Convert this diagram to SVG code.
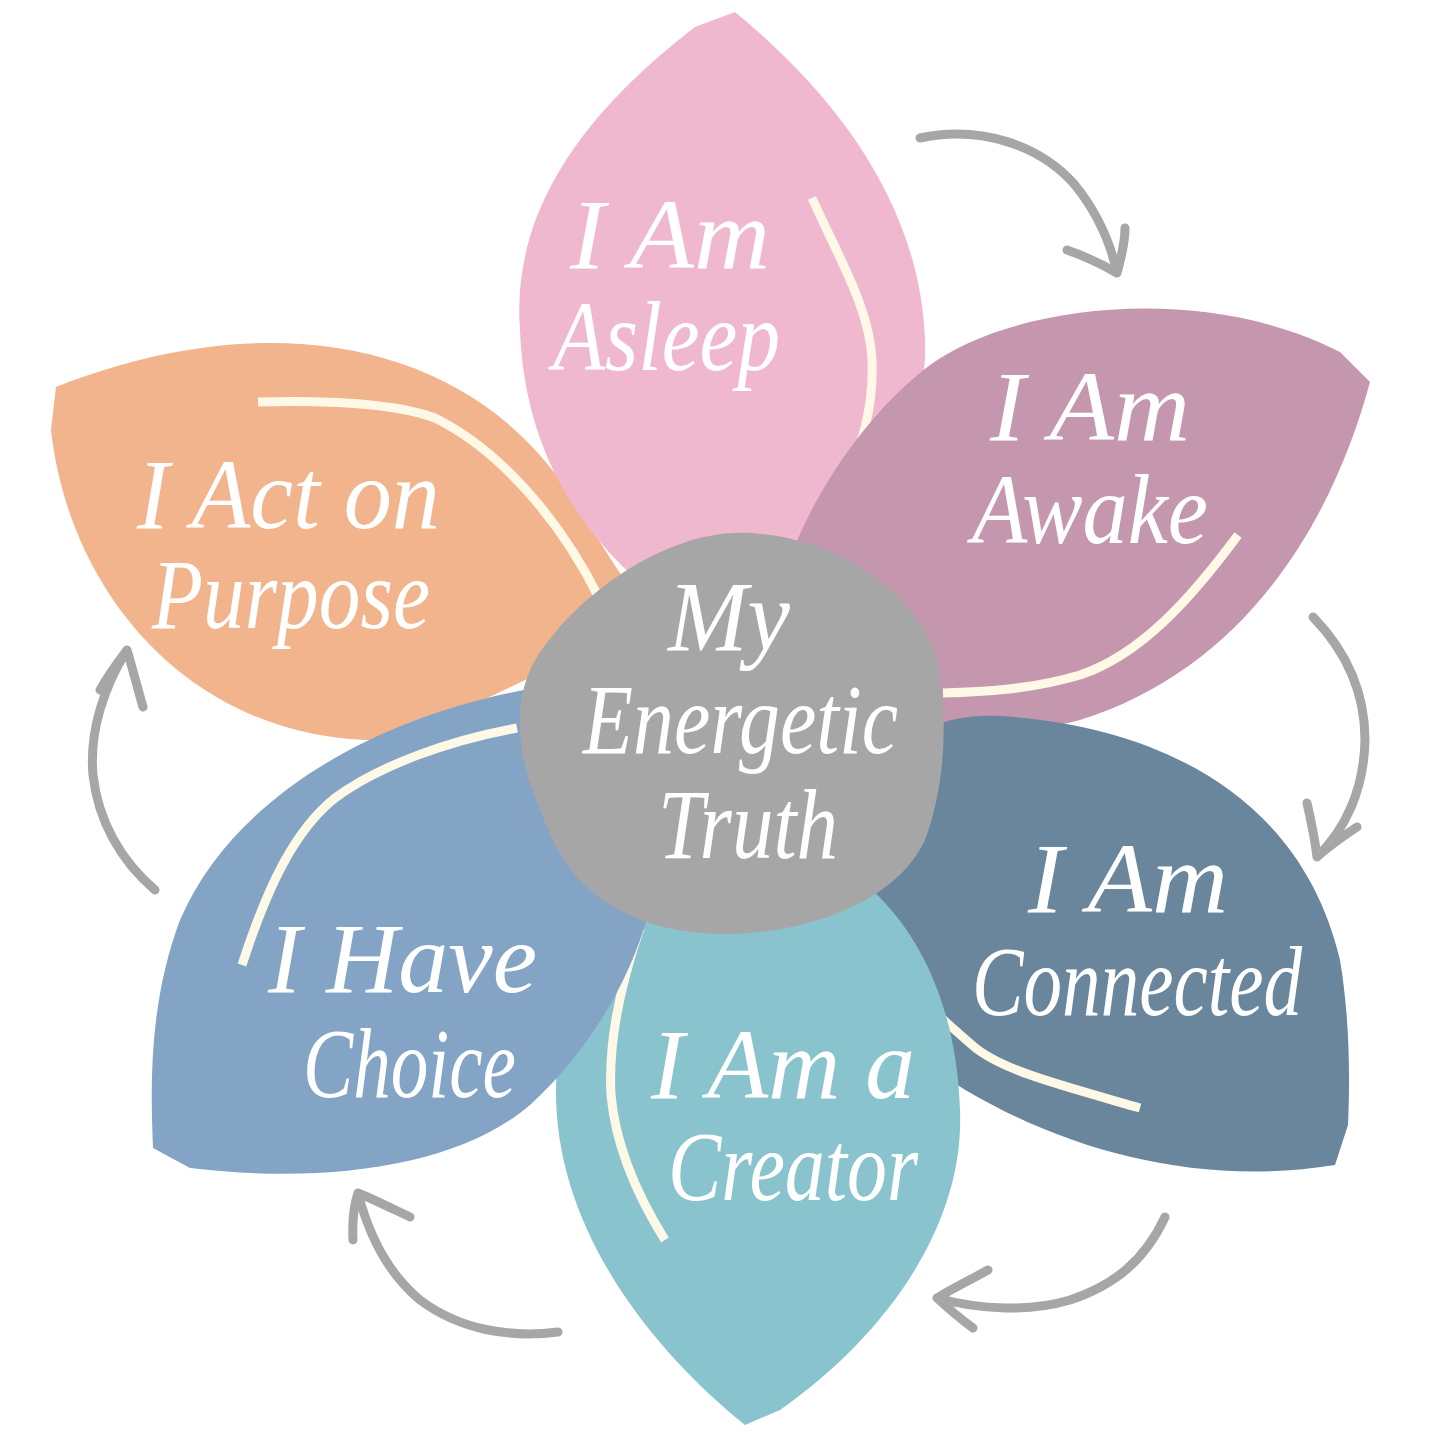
<svg xmlns="http://www.w3.org/2000/svg" width="1440" height="1440" viewBox="0 0 1440 1440">
<style>
.vein{fill:none;stroke:#FDF9E6;stroke-width:9;stroke-linecap:butt}
.arr{fill:none;stroke:#A6A6A6;stroke-width:9;stroke-linecap:round;stroke-linejoin:round}
.lbl{font-family:"Liberation Serif","DejaVu Serif",serif;font-style:italic;font-size:100px;fill:#FFFFFF}
</style>
<rect width="1440" height="1440" fill="#FFFFFF"/>
<g id="petal-purpose">
<path d="M56,387 C250,310 450,330 560,480 L650,620 L400,740 C200,750 70,600 51,430 Z" fill="#F2B48C"/>
<path class="vein" d="M258,402 C340,400 400,405 435,418 C500,450 560,520 598,596"/>
<text class="lbl" x="137" y="528" textLength="303" lengthAdjust="spacingAndGlyphs">I Act on</text>
<text class="lbl" x="152" y="628" textLength="278" lengthAdjust="spacingAndGlyphs">Purpose</text>
</g>
<g id="petal-asleep">
<path d="M695,27 L735,12 C830,90 920,200 925,340 C930,470 820,560 720,640 C600,570 525,470 520,330 C510,200 600,100 695,27 Z" fill="#F0B8CF"/>
<path class="vein" d="M812,198 C840,260 870,310 872,360 C874,410 860,450 848,472"/>
<text class="lbl" x="570" y="268" textLength="200" lengthAdjust="spacingAndGlyphs">I Am</text>
<text class="lbl" x="553" y="370" textLength="227" lengthAdjust="spacingAndGlyphs">Asleep</text>
</g>
<g id="petal-awake">
<path d="M1340,352 L1370,382 C1330,530 1240,670 1080,720 C990,745 880,730 770,640 C780,540 850,430 920,373 C1000,305 1200,280 1340,352 Z" fill="#C497AF"/>
<path class="vein" d="M1238,535 C1190,600 1140,655 1080,675 C1030,690 980,692 943,693"/>
<text class="lbl" x="990" y="440" textLength="200" lengthAdjust="spacingAndGlyphs">I Am</text>
<text class="lbl" x="972" y="543" textLength="236" lengthAdjust="spacingAndGlyphs">Awake</text>
</g>
<g id="petal-connected">
<path d="M1348,1125 L1335,1165 C1180,1190 1030,1140 920,1060 C860,1000 840,900 860,800 C880,740 940,712 1000,716 C1150,725 1300,790 1340,960 C1350,1020 1350,1080 1348,1125 Z" fill="#6A869C"/>
<path class="vein" d="M1140,1108 C1060,1085 1000,1070 972,1045 C957,1032 946,1022 938,1015"/>
<text class="lbl" x="1028" y="912" textLength="200" lengthAdjust="spacingAndGlyphs">I Am</text>
<text class="lbl" x="972" y="1015" textLength="330" lengthAdjust="spacingAndGlyphs">Connected</text>
</g>
<g id="petal-creator">
<path d="M745,1425 C640,1340 555,1220 556,1090 C557,990 600,920 760,830 C880,860 955,960 960,1110 C965,1230 880,1340 780,1410 Z" fill="#89C4CE"/>
<path class="vein" d="M640,928 C622,980 608,1040 611,1095 C616,1150 640,1200 665,1240"/>
<text class="lbl" x="651" y="1098" textLength="264" lengthAdjust="spacingAndGlyphs">I Am a</text>
<text class="lbl" x="668" y="1200" textLength="250" lengthAdjust="spacingAndGlyphs">Creator</text>
</g>
<g id="petal-choice">
<path d="M153,1148 L190,1168 C330,1185 460,1165 530,1105 C590,1050 630,980 648,915 L620,678 C420,690 240,780 180,920 C150,1000 150,1080 153,1148 Z" fill="#84A4C6"/>
<path class="vein" d="M517,728 C450,740 380,765 335,798 C295,830 268,885 242,965"/>
<text class="lbl" x="268" y="992" textLength="269" lengthAdjust="spacingAndGlyphs">I Have</text>
<text class="lbl" x="303" y="1097" textLength="213" lengthAdjust="spacingAndGlyphs">Choice</text>
</g>
<g id="center">
<path d="M733,533 C820,530 900,580 930,640 C950,690 948,780 925,840 C895,905 800,935 720,934 C640,932 580,900 553,840 C530,790 505,730 530,670 C560,610 650,537 733,533 Z" fill="#A6A6A6"/>
<text class="lbl" x="668" y="650" textLength="122" lengthAdjust="spacingAndGlyphs">My</text>
<text class="lbl" x="583" y="753" textLength="315" lengthAdjust="spacingAndGlyphs">Energetic</text>
<text class="lbl" x="658" y="858" textLength="180" lengthAdjust="spacingAndGlyphs">Truth</text>
</g>
<g id="connectors">
<path class="arr" d="M920,138 C980,125 1040,145 1075,185 C1095,210 1110,240 1117,273 M1067,250 C1090,258 1105,266 1117,273 C1122,255 1125,240 1125,228"/>
<path class="arr" d="M1313,617 C1345,650 1365,690 1365,740 C1364,790 1345,830 1317,857 M1307,803 C1312,825 1315,840 1317,857 C1330,845 1345,835 1357,827"/>
<path class="arr" d="M1165,1217 C1145,1260 1115,1285 1070,1300 C1030,1312 980,1310 937,1298 M988,1270 C970,1280 950,1290 937,1298 C950,1310 962,1320 973,1328"/>
<path class="arr" d="M558,1332 C510,1338 460,1330 420,1300 C390,1275 370,1240 358,1193 M353,1240 C352,1220 354,1205 358,1193 C375,1200 395,1210 410,1217"/>
<path class="arr" d="M155,890 C120,860 98,820 93,775 C89,730 105,685 127,650 M100,690 C108,675 118,662 127,650 C133,670 138,690 143,707"/>
</g>
</svg>
